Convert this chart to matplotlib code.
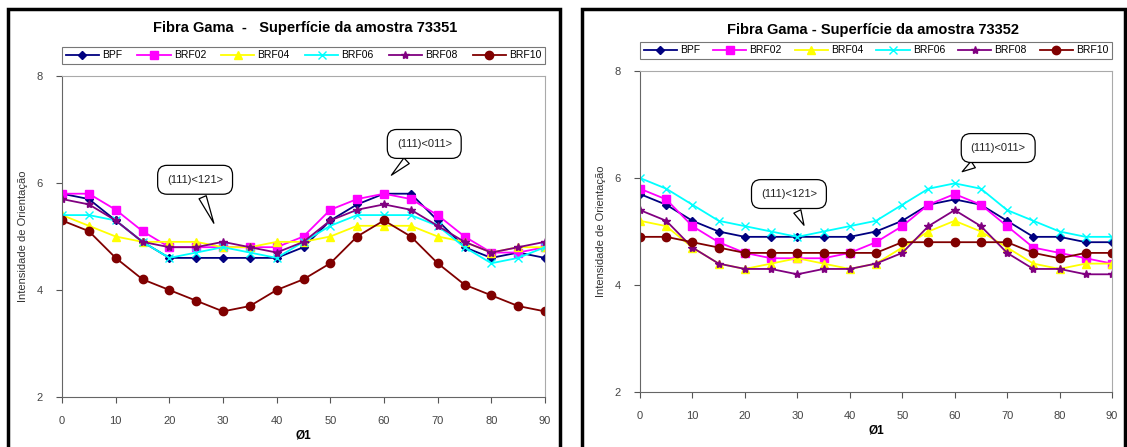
import matplotlib
matplotlib.use("Agg")
import matplotlib.pyplot as plt
from matplotlib.patches import Rectangle

plt.rcParams['font.family'] = ['Liberation Sans', 'DejaVu Sans']

phi1 = [0, 5, 10, 15, 20, 25, 30, 35, 40, 45, 50, 55, 60, 65, 70, 75, 80, 85, 90]
labels = ['BPF', 'BRF02', 'BRF04', 'BRF06', 'BRF08', 'BRF10']

# amostra 73351
s1_bpf = [5.8, 5.7, 5.3, 4.9, 4.6, 4.6, 4.6, 4.6, 4.6, 4.8, 5.3, 5.6, 5.8, 5.8, 5.3, 4.8, 4.6, 4.7, 4.6]
s1_brf02 = [5.8, 5.8, 5.5, 5.1, 4.8, 4.8, 4.8, 4.8, 4.8, 5.0, 5.5, 5.7, 5.8, 5.7, 5.4, 5.0, 4.7, 4.7, 4.8]
s1_brf04 = [5.4, 5.2, 5.0, 4.9, 4.9, 4.9, 4.8, 4.8, 4.9, 4.9, 5.0, 5.2, 5.2, 5.2, 5.0, 4.9, 4.7, 4.8, 4.8]
s1_brf06 = [5.4, 5.4, 5.3, 4.9, 4.6, 4.7, 4.8, 4.7, 4.6, 4.9, 5.2, 5.4, 5.4, 5.4, 5.2, 4.8, 4.5, 4.6, 4.8]
s1_brf08 = [5.7, 5.6, 5.3, 4.9, 4.8, 4.8, 4.9, 4.8, 4.7, 4.9, 5.3, 5.5, 5.6, 5.5, 5.2, 4.9, 4.7, 4.8, 4.9]
s1_brf10 = [5.3, 5.1, 4.6, 4.2, 4.0, 3.8, 3.6, 3.7, 4.0, 4.2, 4.5, 5.0, 5.3, 5.0, 4.5, 4.1, 3.9, 3.7, 3.6]

# amostra 73352
s2_bpf = [5.7, 5.5, 5.2, 5.0, 4.9, 4.9, 4.9, 4.9, 4.9, 5.0, 5.2, 5.5, 5.6, 5.5, 5.2, 4.9, 4.9, 4.8, 4.8]
s2_brf02 = [5.8, 5.6, 5.1, 4.8, 4.6, 4.5, 4.5, 4.5, 4.6, 4.8, 5.1, 5.5, 5.7, 5.5, 5.1, 4.7, 4.6, 4.5, 4.4]
s2_brf04 = [5.2, 5.1, 4.7, 4.4, 4.3, 4.4, 4.5, 4.4, 4.3, 4.4, 4.7, 5.0, 5.2, 5.0, 4.7, 4.4, 4.3, 4.4, 4.4]
s2_brf06 = [6.0, 5.8, 5.5, 5.2, 5.1, 5.0, 4.9, 5.0, 5.1, 5.2, 5.5, 5.8, 5.9, 5.8, 5.4, 5.2, 5.0, 4.9, 4.9]
s2_brf08 = [5.4, 5.2, 4.7, 4.4, 4.3, 4.3, 4.2, 4.3, 4.3, 4.4, 4.6, 5.1, 5.4, 5.1, 4.6, 4.3, 4.3, 4.2, 4.2]
s2_brf10 = [4.9, 4.9, 4.8, 4.7, 4.6, 4.6, 4.6, 4.6, 4.6, 4.6, 4.8, 4.8, 4.8, 4.8, 4.8, 4.6, 4.5, 4.6, 4.6]

colors = ['#000080', '#ff00ff', '#ffff00', '#00ffff', '#800080', '#800000']
markers = ['D', 's', '^', 'x', '*', 'o']
msizes = [4, 6, 6, 6, 6, 6]

W, H = 1127, 447
fig = plt.figure(figsize=(W / 100, H / 100), dpi=100)

# outer chart frames (run off the bottom edge, as in the reference)
fig.patches.append(Rectangle((8 / W, -0.05), 552 / W, 1.05 - 9 / H, transform=fig.transFigure,
                             fill=False, edgecolor='black', linewidth=2.5))
fig.patches.append(Rectangle((582 / W, -0.05), 543 / W, 1.05 - 9 / H, transform=fig.transFigure,
                             fill=False, edgecolor='black', linewidth=2.5))

ax1 = fig.add_axes([62 / W, 50 / H, 483 / W, 321 / H])
ax2 = fig.add_axes([640 / W, 55 / H, 472 / W, 321 / H])


def draw(ax, series, title, title_x, title_y, callouts):
    for y, lab, c, m, ms in zip(series, labels, colors, markers, msizes):
        ax.plot(phi1, y, color=c, marker=m, markersize=ms, linewidth=1.3, label=lab,
                markeredgewidth=1.0)
    ax.set_xlim(0, 90)
    ax.set_ylim(2, 8)
    ax.set_xticks(range(0, 91, 10))
    ax.set_yticks([2, 4, 6, 8])
    ax.tick_params(direction='out', length=4, labelsize=8, colors='#555555', labelcolor='#444444', pad=10)
    for side in ['top', 'right']:
        ax.spines[side].set_color('#aaaaaa')
    for side in ['left', 'bottom']:
        ax.spines[side].set_color('#666666')
    ax.set_xlabel('Ø1', fontsize=8.5, fontweight='bold', labelpad=2)
    ax.set_ylabel('Intensidade de Orientação', fontsize=8, color='#333333', labelpad=6)
    fig.text(title_x / W, 1 - title_y / H, title, fontsize=10.5, fontweight='bold', ha='center', va='center')
    leg = ax.legend(loc='lower left', ncol=6, mode='expand',
                    fontsize=7.5, frameon=True, fancybox=False, borderaxespad=0, handlelength=3.2,
                    handletextpad=0.3, borderpad=0.35, columnspacing=0.8)
    leg.set_bbox_to_anchor((0.0, 1.037, 1.0, 0.055), transform=ax.transAxes)
    leg.get_frame().set_edgecolor('#555555')
    leg.get_frame().set_linewidth(0.8)
    for text, xy, xytext in callouts:
        ax.annotate(text, xy=xy, xytext=xytext, fontsize=8, color='#222222', ha='center', va='center',
                    bbox=dict(boxstyle='round,pad=0.85', fc='white', ec='black', lw=0.9),
                    arrowprops=dict(arrowstyle='wedge,tail_width=0.7,shrink_factor=0.5', fc='white',
                                    ec='black', lw=0.9))


draw(ax1, [s1_bpf, s1_brf02, s1_brf04, s1_brf06, s1_brf08, s1_brf10],
     'Fibra Gama  -   Superfície da amostra 73351', 305, 28,
     [('(111)<121>', (28.5, 5.2), (24.8, 6.06)), ('(111)<011>', (61, 6.11), (67.5, 6.73))])
draw(ax2, [s2_bpf, s2_brf02, s2_brf04, s2_brf06, s2_brf08, s2_brf10],
     'Fibra Gama - Superfície da amostra 73352', 873, 30,
     [('(111)<121>', (31.5, 5.07), (28.4, 5.70)), ('(111)<011>', (61, 6.09), (68.3, 6.56))])

fig.savefig('out.png', dpi=100)
